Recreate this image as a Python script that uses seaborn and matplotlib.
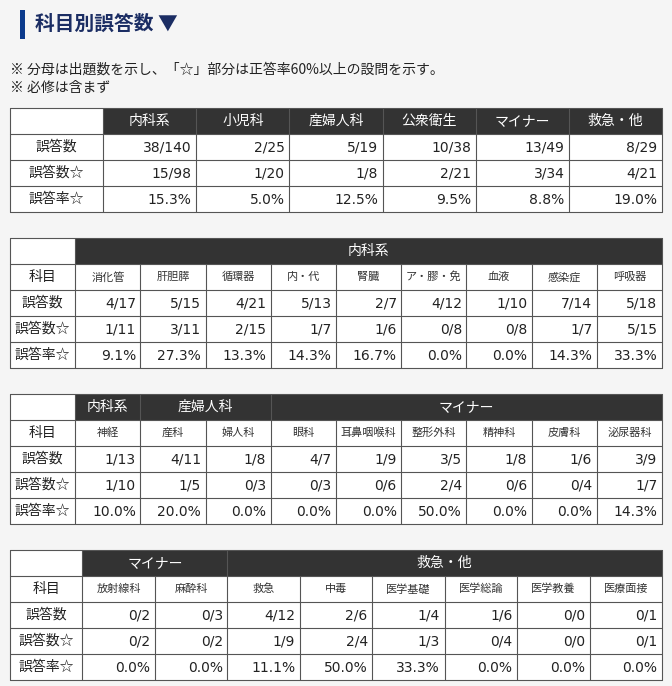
import matplotlib
matplotlib.use("Agg")
import matplotlib.pyplot as plt
import numpy as np
import seaborn as sns
from matplotlib.colors import ListedColormap
from matplotlib.patches import Rectangle

# ---- data ------------------------------------------------------------
row_labels = ['誤答数', '誤答数☆', '誤答率☆']

# table 1 : totals per field
t1_fields = ['内科系', '小児科', '産婦人科', '公衆衛生', 'マイナー', '救急・他']
t1_wrong = [38, 2, 5, 10, 13, 8]
t1_total = [140, 25, 19, 38, 49, 29]
t1_wrong_star = [15, 1, 1, 2, 3, 4]
t1_total_star = [98, 20, 8, 21, 34, 21]
t1_rate = [15.3, 5.0, 12.5, 9.5, 8.8, 19.0]

# table 2 : 内科系 subjects
t2_groups = [('内科系', 9)]
t2_subjects = ['消化管', '肝胆膵', '循環器', '内・代', '腎臓', 'ア・膠・免', '血液', '感染症', '呼吸器']
t2_wrong = [4, 5, 4, 5, 2, 4, 1, 7, 5]
t2_total = [17, 15, 21, 13, 7, 12, 10, 14, 18]
t2_wrong_star = [1, 3, 2, 1, 1, 0, 0, 1, 5]
t2_total_star = [11, 11, 15, 7, 6, 8, 8, 7, 15]
t2_rate = [9.1, 27.3, 13.3, 14.3, 16.7, 0.0, 0.0, 14.3, 33.3]

# table 3
t3_groups = [('内科系', 1), ('産婦人科', 2), ('マイナー', 6)]
t3_subjects = ['神経', '産科', '婦人科', '眼科', '耳鼻咽喉科', '整形外科', '精神科', '皮膚科', '泌尿器科']
t3_wrong = [1, 4, 1, 4, 1, 3, 1, 1, 3]
t3_total = [13, 11, 8, 7, 9, 5, 8, 6, 9]
t3_wrong_star = [1, 1, 0, 0, 0, 2, 0, 0, 1]
t3_total_star = [10, 5, 3, 3, 6, 4, 6, 4, 7]
t3_rate = [10.0, 20.0, 0.0, 0.0, 0.0, 50.0, 0.0, 0.0, 14.3]

# table 4
t4_groups = [('マイナー', 2), ('救急・他', 6)]
t4_subjects = ['放射線科', '麻酔科', '救急', '中毒', '医学基礎', '医学総論', '医学教養', '医療面接']
t4_wrong = [0, 0, 4, 2, 1, 1, 0, 0]
t4_total = [2, 3, 12, 6, 4, 6, 0, 1]
t4_wrong_star = [0, 0, 1, 2, 1, 0, 0, 0]
t4_total_star = [2, 2, 9, 4, 3, 4, 0, 1]
t4_rate = [0.0, 0.0, 11.1, 50.0, 33.3, 0.0, 0.0, 0.0]

# ---- style -----------------------------------------------------------
sns.set_theme(style="white")
plt.rcParams['font.family'] = ['Noto Sans CJK JP', 'DejaVu Sans']

W, H = 672, 686
BG = '#f5f5f5'
DARK = '#333333'
LINE = '#555555'
TXT = '#222222'
NUM_FONT = ['DejaVu Sans']

fig = plt.figure(figsize=(W / 100, H / 100), dpi=100, facecolor=BG)

# page axes in pixel coordinates for title and notes
page = fig.add_axes([0, 0, 1, 1])
page.set_xlim(0, W)
page.set_ylim(H, 0)
page.axis('off')
page.add_patch(Rectangle((19.5, 10), 5, 29, color='#0b3a8c', lw=0))
page.text(35, 24.5, '科目別誤答数 ▼', fontsize=14.2, fontweight='bold',
          color='#1b2d63', va='center', ha='left')
page.text(10, 70, '※ 分母は出題数を示し、「☆」部分は正答率60%以上の設問を示す。',
          fontsize=10, color=TXT, va='center')
page.text(10, 88, '※ 必修は含まず', fontsize=10, color=TXT, va='center')


def frac(a, b):
    return [f'{x}/{y}' for x, y in zip(a, b)]


def rates(vals):
    return [f'{v:.1f}%' for v in vals]


def draw_table(top, n_rows, n_cols, header_cols):
    # one axes per table, cells laid out on the heatmap grid
    ax = fig.add_axes([10 / W, 1 - (top + 26 * n_rows) / H, 652 / W, 26 * n_rows / H])
    kind = np.zeros((n_rows, n_cols))
    kind[0, 1:] = 1
    sns.heatmap(kind, cmap=ListedColormap(['white', DARK]), vmin=0, vmax=1,
                cbar=False, linewidths=0, xticklabels=False, yticklabels=False, ax=ax)
    ax.axis('off')
    lw = 0.8
    for r in range(n_rows + 1):
        ax.plot([0, n_cols], [r, r], color=LINE, lw=lw, clip_on=False)
    for c in range(n_cols + 1):
        ax.plot([c, c], [1, n_rows], color=LINE, lw=lw, clip_on=False)
    for c in header_cols:
        ax.plot([c, c], [0, 1], color=LINE, lw=lw, clip_on=False)
    return ax


def fill_rows(ax, first_row, rows, n_cols):
    pad = 4.5 / (652 / n_cols)
    for i, (lab, vals) in enumerate(zip(row_labels, rows)):
        y = first_row + i + 0.5
        ax.text(0.5, y, lab, ha='center', va='center', fontsize=10, color=TXT)
        for j, v in enumerate(vals):
            ax.text(j + 2 - pad, y + 0.02, v, ha='right', va='center', fontsize=10,
                    color=TXT, family=NUM_FONT)


# table 1
ax1 = draw_table(108, 4, 7, range(8))
for j, f in enumerate(t1_fields):
    ax1.text(j + 1.5, 0.5, f, ha='center', va='center', fontsize=10, color='white')
fill_rows(ax1, 1, [frac(t1_wrong, t1_total), frac(t1_wrong_star, t1_total_star),
                   rates(t1_rate)], 7)


def sub_table(top, groups, subjects, wrong, total, wrong_s, total_s, rate):
    n_cols = len(subjects) + 1
    bounds = [0, 1]
    for _, span in groups:
        bounds.append(bounds[-1] + span)
    ax = draw_table(top, 5, n_cols, bounds)
    start = 1
    for name, span in groups:
        ax.text(start + span / 2, 0.5, name, ha='center', va='center',
                fontsize=10, color='white')
        start += span
    ax.text(0.5, 1.5, '科目', ha='center', va='center', fontsize=10, color=TXT)
    for j, s in enumerate(subjects):
        ax.text(j + 1.5, 1.5, s, ha='center', va='center', fontsize=8, color='#333333')
    fill_rows(ax, 2, [frac(wrong, total), frac(wrong_s, total_s), rates(rate)], n_cols)


sub_table(238, t2_groups, t2_subjects, t2_wrong, t2_total, t2_wrong_star, t2_total_star, t2_rate)
sub_table(394, t3_groups, t3_subjects, t3_wrong, t3_total, t3_wrong_star, t3_total_star, t3_rate)
sub_table(550, t4_groups, t4_subjects, t4_wrong, t4_total, t4_wrong_star, t4_total_star, t4_rate)

fig.savefig('out.png', dpi=100, facecolor=BG)
